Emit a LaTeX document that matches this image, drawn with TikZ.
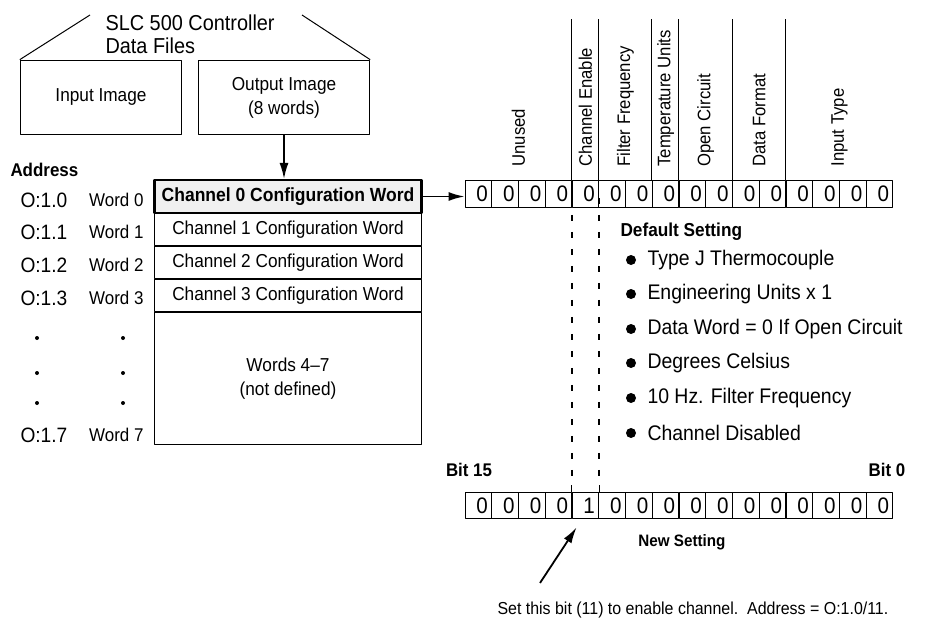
\documentclass[tikz,border=0pt]{standalone}
\usepackage{fontspec}
\setmainfont{Liberation Sans}[FakeStretch=0.92]
\usetikzlibrary{%
arrows.meta,
calc}

\tikzset{
  box/.style={draw, inner sep=0pt, align=center, font=\fontsize{18.8}{24}\selectfont},
  imgbox/.style={box, minimum height=75},
  wordrow/.style={box, minimum width=268, minimum height=33},
  bitcell/.style={draw, minimum width=26.75, minimum height=27, inner ysep=0pt,
    inner xsep=4pt, text width=18.75, align=right, font=\fontsize{22.5}{22}\selectfont},
  fieldlbl/.style={rotate=90, anchor=west, inner sep=0pt, font=\fontsize{18.2}{20}\selectfont},
  addr/.style={anchor=west, inner sep=0pt, font=\fontsize{20.9}{22}\selectfont},
  wordlbl/.style={anchor=east, inner sep=0pt, font=\fontsize{18.5}{20}\selectfont},
  setitem/.style={anchor=west, inner sep=0pt, font=\fontsize{21.2}{22}\selectfont},
  heading/.style={anchor=west, inner sep=0pt, font=\bfseries\fontsize{18.8}{20}\selectfont},
  enabledash/.style={line width=2bp, dash pattern=on 6bp off 11bp},
  thickarrow/.style={-{Latex[length=16bp,width=9bp]}, line width=1.8bp},
}

\begin{document}
\begin{tikzpicture}[x=1bp,y=-1bp,line join=bevel]
  \pgfsetlinewidth{1bp}
  \useasboundingbox (0,0) rectangle (937,620);
%%
  % Node: title
  \node[anchor=west, inner sep=0pt, align=left, font=\fontsize{21.7}{23}\selectfont] (title) at (105,34)
    {SLC 500 Controller\\Data Files};
  \coordinate (titleL) at (90,15);
  \coordinate (titleR) at (302,15);
  % Node: inimg
  \node[imgbox, minimum width=162] (inimg) at (101,97.5) {Input Image};
  % Node: outimg
  \node[imgbox, minimum width=172] (outimg) at (284,97.5) {Output Image\\(8 words)};
  % Edge: title -> inimg, title -> outimg
  \draw (titleL) -- (inimg.north west);
  \draw (titleR) -- (outimg.north east);
%%
  % Node: word rows
  \node[wordrow] (ch1) at (288,229.5) {Channel 1 Configuration Word};
  \node[wordrow] (ch2) at (288,262.5) {Channel 2 Configuration Word};
  \node[wordrow] (ch3) at (288,295.5) {Channel 3 Configuration Word};
  \node[box, minimum width=268, minimum height=133] (rest) at (288,378.5) {Words 4--7\\(not defined)};
  \node[wordrow, fill=gray!12, line width=2.2bp, font=\bfseries\fontsize{19.1}{20}\selectfont] (ch0) at (288,196.5)
    {Channel 0 Configuration Word};
  % Edge: outimg -> ch0
  \draw[thickarrow] (outimg.south) -- (outimg.south |- ch0.north);
%%
  % Node: address labels
  \node[heading, font=\bfseries\fontsize{18.5}{20}\selectfont] (address) at (10,170) {Address};
  \foreach \i/\y in {0/200,1/232,2/265,3/298,7/435} {
    \node[addr] (addr\i) at (20,\y) {O:1.\i};
    \node[wordlbl] (word\i) at (144,\y) {Word \i};
  }
  \foreach \y in {338,373,403} {
    \fill (37,\y) circle (2);
    \fill (123,\y) circle (2);
  }
%%
  % Node: top bit row (default)
  \foreach \i in {0,...,15}
    \node[bitcell] (top\i) at ({478.375+26.75*\i},194) {\raisebox{-1.5pt}{0}};
  \foreach \c in {4,5,7,8,10,12}
    \draw (top\c.north west) -- ++(0,-161);
  \foreach \a/\b/\t in {0/3/Unused,4/4/Channel Enable,5/6/Filter Frequency,7/7/Temperature Units,
                        8/9/Open Circuit,10/11/Data Format,12/15/Input Type}
    \node[fieldlbl] (fld\a) at ($(top\a.north west)!0.5!(top\b.north east)+(0,-13)$) {\t};
  % Edge: ch0 -> top0
  \draw[thickarrow] (ch0.east) -- (ch0.east -| top0.west);
%%
  % Node: default setting list
  \node[heading] (default) at (620,232) {Default Setting};
  \foreach \y/\t in {260/Type J Thermocouple, 294/Engineering Units x 1,
                     329/Data Word = 0 If Open Circuit, 363/Degrees Celsius,
                     398/10 Hz. Filter Frequency, 433/Channel Disabled} {
    \fill (631,\y) circle (5);
    \node[setitem] at (647,\y) {\t};
  }
%%
  % Node: bottom bit row (new)
  \foreach \v [count=\i from 0] in {0,0,0,0,1,0,0,0,0,0,0,0,0,0,0,0}
    \node[bitcell] (bot\i) at ({478.375+26.75*\i},505.5) {\raisebox{-1.5pt}{\v}};
  \node[heading, anchor=center, font=\bfseries\fontsize{18.4}{20}\selectfont] (bit15) at (469,470) {Bit 15};
  \node[heading, anchor=center, font=\bfseries\fontsize{18.4}{20}\selectfont] (bit0) at (887,470) {Bit 0};
  \node[heading, anchor=center, font=\bfseries\fontsize{16.6}{18}\selectfont] (newset) at (682,542) {New Setting};
  % Edge: top4 -> bot4 (dashed guides)
  \draw[enabledash] ([yshift=10bp]top4.south west) -- ([yshift=7bp]bot4.north west);
  \draw[enabledash] ([yshift=10bp]top4.south east) -- ([yshift=7bp]bot4.north east);
  \draw (bot4.north west) -- ++(0,-7);
  \draw (bot4.north east) -- ++(0,-7);
%%
  % Node: note
  \node[anchor=west, inner sep=0pt, font=\fontsize{17.4}{19}\selectfont] (note) at (497,610)
    {Set this bit (11) to enable channel.\ \ Address = O:1.0/11.};
  \coordinate (notetail) at (540,583);
  % Edge: note -> bot4
  \draw[thickarrow] (notetail) -- ([xshift=5bp,yshift=-8bp]bot4.south west);
%
\end{tikzpicture}
\end{document}
